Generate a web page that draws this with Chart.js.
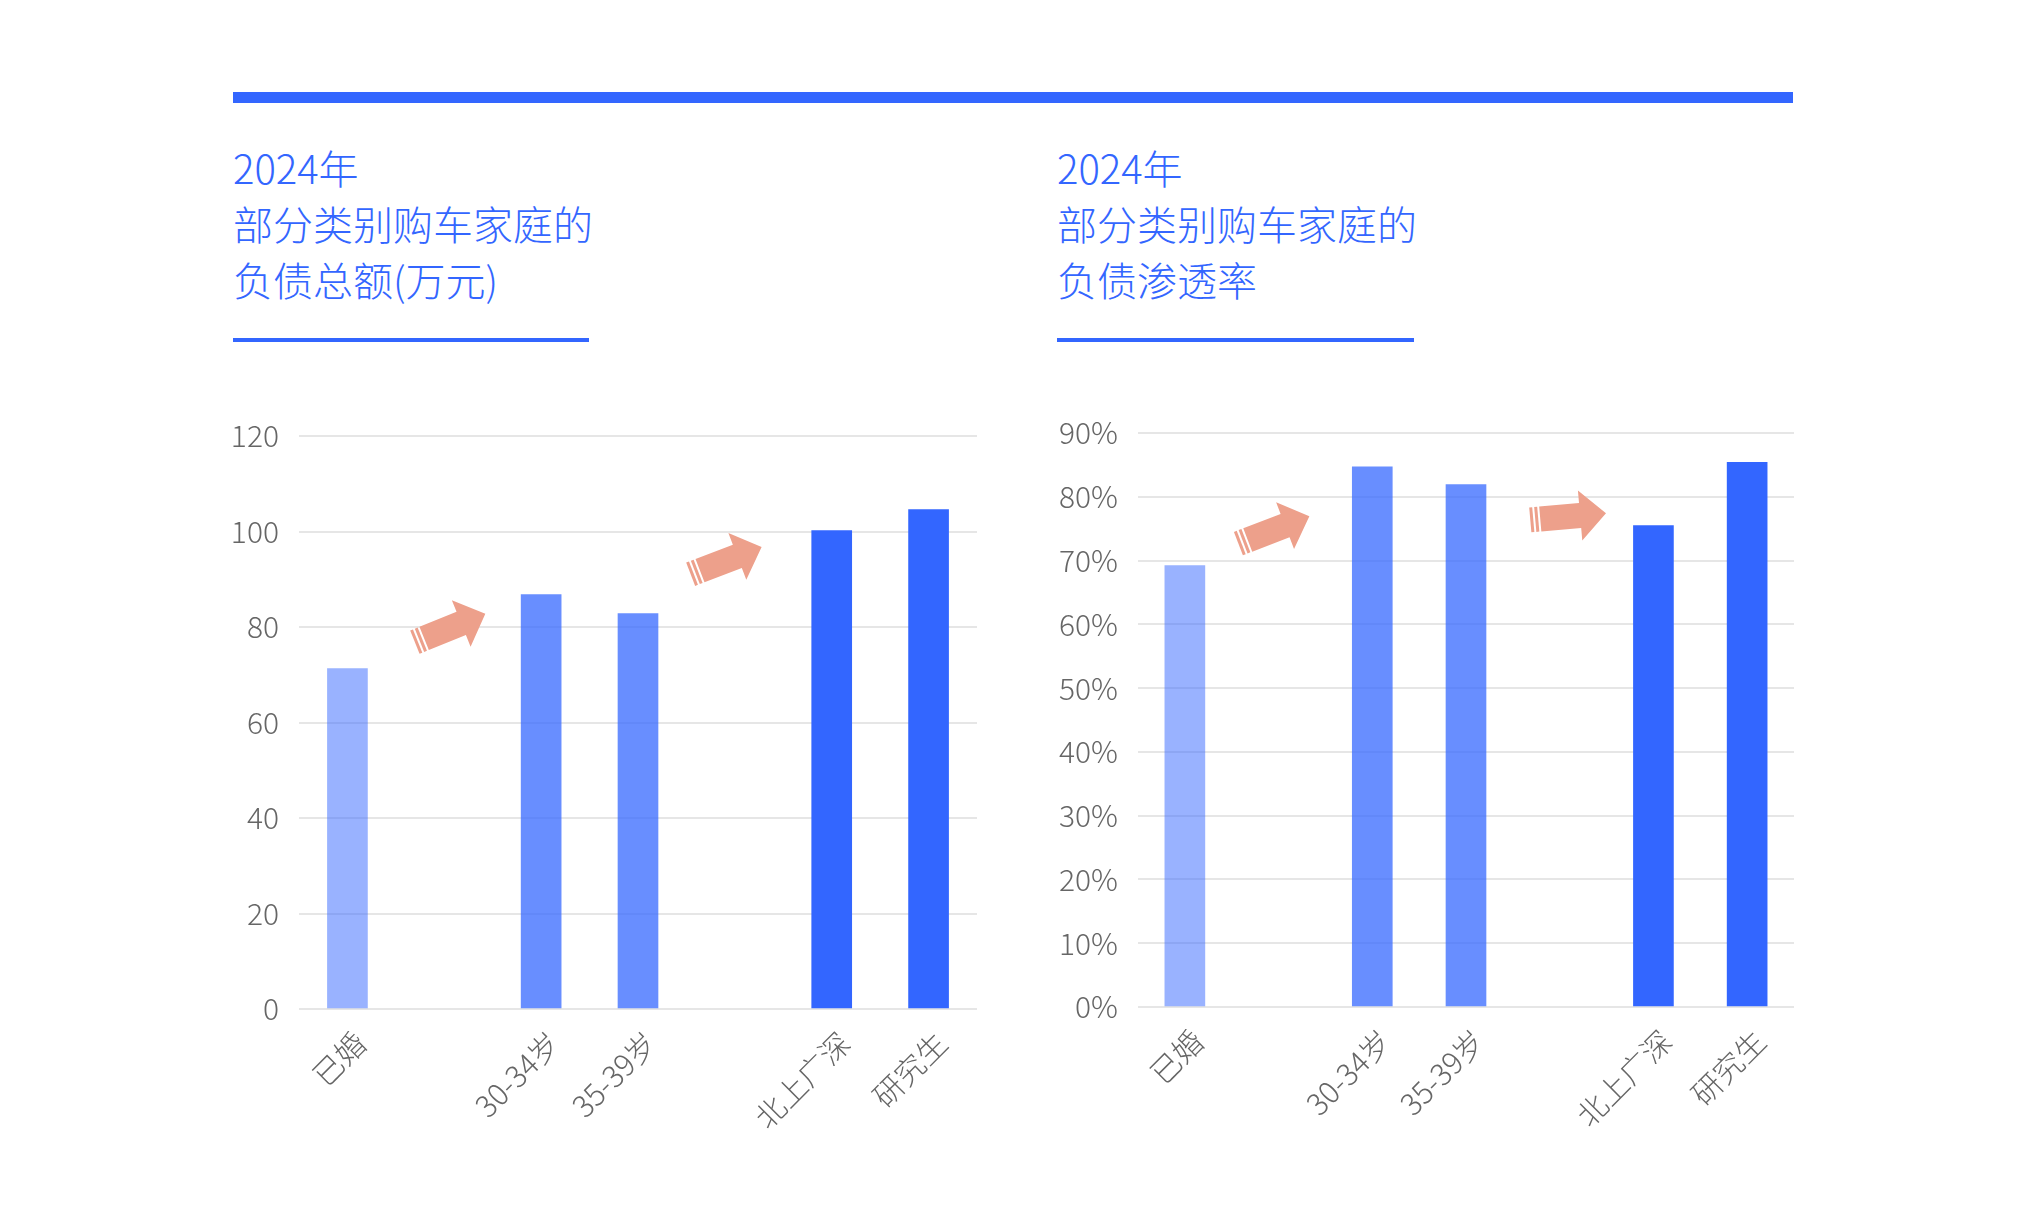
<!DOCTYPE html>
<html>
<head>
<meta charset="utf-8">
<script src="https://cdn.jsdelivr.net/npm/chart.js@4.4.0/dist/chart.umd.min.js"></script>
<style>
  body { margin: 0; background: #fff; }
  #page { position: relative; width: 2018px; height: 1226px; overflow: hidden;
          font-family: "Noto Sans CJK SC", "Noto Sans", sans-serif; }
  .bar { position: absolute; background: #3366ff; }
  .title { position: absolute; top: 139px; color: #3366ff; font-size: 40px;
           line-height: 56px; font-weight: 300; white-space: nowrap; }
  .box { position: absolute; top: 390px; height: 760px; }
</style>
</head>
<body>
<div id="page">
  <div class="bar" style="left:233px;top:92px;width:1560px;height:11px"></div>
  <div class="title" style="left:233px">2024年<br>部分类别购车家庭的<br>负债总额(万元)</div>
  <div class="bar" style="left:233px;top:338px;width:356px;height:4px"></div>
  <div class="title" style="left:1057px">2024年<br>部分类别购车家庭的<br>负债渗透率</div>
  <div class="bar" style="left:1057px;top:338px;width:357px;height:4px"></div>

  <div class="box" style="left:200px;width:800px"><canvas id="debtChart"></canvas></div>
  <div class="box" style="left:1040px;width:780px"><canvas id="rateChart"></canvas></div>
</div>

<script>
// categories (empty slots keep the gaps between groups)
var categories = ['已婚', '', '30-34岁', '35-39岁', '', '北上广深', '研究生'];

// 负债总额 (万元)
var debtValues = [71.3, null, 86.8, 82.8, null, 100.2, 104.6];
var debtTicks = [0, 20, 40, 60, 80, 100, 120];

// 负债渗透率 (%)
var rateValues = [69.2, null, 84.7, 81.9, null, 75.5, 85.4];
var rateTicks = [0, 10, 20, 30, 40, 50, 60, 70, 80, 90];

// arrow marks: category position, value, tilt
var debtArrowAt = [1.06, 3.91];
var debtArrowVal = [79.8, 93.9];
var debtArrowTilt = [-22, -21];
var rateArrowAt = [0.95, 4.09];
var rateArrowVal = [74.8, 76.9];
var rateArrowTilt = [-21, -5];

var barColors = ['rgba(51,102,255,0.5)', 'rgba(0,0,0,0)', 'rgba(51,102,255,0.74)',
                 'rgba(51,102,255,0.74)', 'rgba(0,0,0,0)', '#3366ff', '#3366ff'];
var fontFamily = '"Noto Sans CJK SC", "Noto Sans", sans-serif';

var arrowPlugin = {
  id: 'arrows',
  afterDatasetsDraw: function(chart, args, opts) {
    var ctx = chart.ctx;
    var x = chart.scales.x, y = chart.scales.y;
    for (var i = 0; i < opts.at.length; i++) {
      var px = x.getPixelForValue(opts.at[i]);
      var py = y.getPixelForValue(opts.val[i]);
      ctx.save();
      ctx.translate(px, py);
      ctx.rotate(opts.tilt[i] * Math.PI / 180);
      ctx.fillStyle = '#eda08b';
      // two thin stripes at the tail
      ctx.fillRect(-38, -12.5, 3, 25);
      ctx.fillRect(-33, -12.5, 3, 25);
      // body and head
      ctx.beginPath();
      ctx.moveTo(-28, -12.5);
      ctx.lineTo(12, -12.5);
      ctx.lineTo(12, -25);
      ctx.lineTo(38, 0);
      ctx.lineTo(12, 25);
      ctx.lineTo(12, 12.5);
      ctx.lineTo(-28, 12.5);
      ctx.closePath();
      ctx.fill();
      ctx.restore();
    }
  }
};

function makeChart(id, values, ticks, isPct, yWidth, xHeight, pad, arrows) {
  var ctx = document.getElementById(id);
  return new Chart(ctx, {
    type: 'bar',
    data: {
      labels: categories,
      datasets: [{
        data: values,
        backgroundColor: barColors,
        barThickness: 40,
        borderWidth: 0
      }]
    },
    options: {
      responsive: true,
      maintainAspectRatio: false,
      animation: false,
      layout: { padding: pad },
      plugins: {
        legend: { display: false },
        tooltip: { enabled: false },
        arrows: arrows
      },
      scales: {
        x: {
          grid: { display: false, drawTicks: false },
          border: { display: false },
          ticks: {
            autoSkip: false,
            maxRotation: 45,
            minRotation: 45,
            padding: 16,
            labelOffset: 13,
            color: '#666',
            font: { family: fontFamily, size: 30, weight: 300 }
          },
          afterFit: function(scale) { scale.height = xHeight; }
        },
        y: {
          min: ticks[0],
          max: ticks[ticks.length - 1],
          afterBuildTicks: function(scale) {
            scale.ticks = ticks.map(function(v) { return { value: v }; });
          },
          grid: { color: '#e6e6e6', lineWidth: 2, drawTicks: false },
          border: { display: false },
          ticks: {
            padding: 20,
            color: '#666',
            font: { family: fontFamily, size: 30, weight: 300 },
            callback: function(v) { return isPct ? v + '%' : v; }
          },
          afterFit: function(scale) { scale.width = yWidth; }
        }
      }
    },
    plugins: [arrowPlugin]
  });
}

makeChart('debtChart', debtValues, debtTicks, false, 99, 141,
  { top: 46, right: 23, left: 0, bottom: 0 },
  { at: debtArrowAt, val: debtArrowVal, tilt: debtArrowTilt });

makeChart('rateChart', rateValues, rateTicks, true, 98, 143,
  { top: 43, right: 26, left: 0, bottom: 0 },
  { at: rateArrowAt, val: rateArrowVal, tilt: rateArrowTilt });
</script>
</body>
</html>
